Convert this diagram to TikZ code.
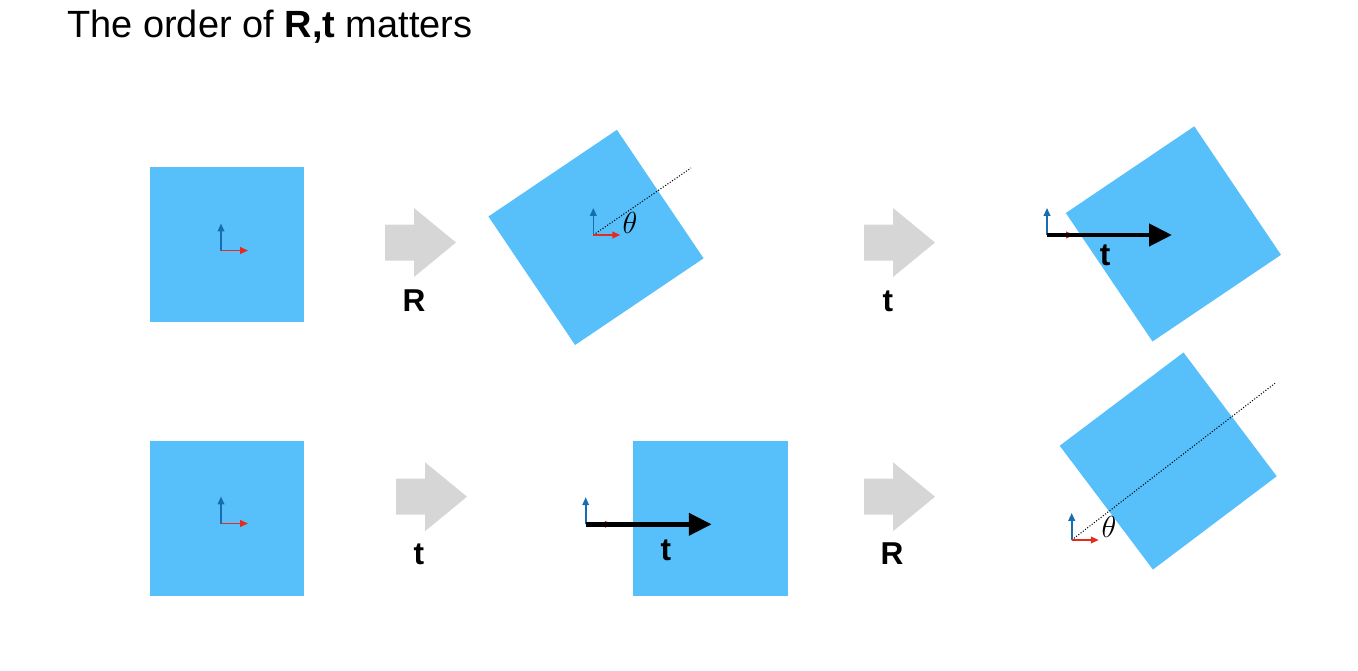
\documentclass[tikz,border=0pt]{standalone}
\usepackage{fontspec}
\setmainfont{Liberation Sans}
\usetikzlibrary{arrows.meta}

\definecolor{squareblue}{RGB}{87,191,250}
\definecolor{opgray}{RGB}{214,214,214}
\definecolor{axisblue}{RGB}{22,110,176}
\definecolor{axisred}{RGB}{228,44,30}

\tikzset{
  block/.style={fill=squareblue, inner sep=0pt, minimum size=3.1cm},
  xaxis/.style={draw=axisred, line width=0.9pt, -{Triangle[length=4.5pt,width=3.8pt]}},
  yaxis/.style={draw=axisblue, line width=0.9pt, -{Triangle[length=4.5pt,width=3.8pt]}},
  tvec/.style={line width=2.8pt, -{Triangle[length=13pt,width=12.3pt]}},
  oplabel/.style={font=\bfseries\fontsize{18}{20}\selectfont},
  anglelabel/.style={font=\fontsize{19}{21}\selectfont},
}

% local frame at a named coordinate
\newcommand{\frameaxes}[1]{%
  \draw[yaxis] (#1) -- ++(0,-27);
  \draw[xaxis] (#1) -- ++(27,0);}
% grey block arrow, left end of shaft at #1
\newcommand{\opblock}[1]{%
  \fill[opgray, shift={(#1)}] (0,-18) -- (29,-18) -- (29,-34.5) -- (71,0)
    -- (29,34.5) -- (29,18) -- (0,18) -- cycle;}

\begin{document}
\begin{tikzpicture}[x=0.02cm, y=-0.02cm]
  \useasboundingbox (0,0) rectangle (1358,670);

  \node[anchor=base west, inner sep=0pt, font=\fontsize{21.6}{26}\selectfont] (title) at (67,37)
    {The order of \textbf{R,t} matters};

  % first row: R then t
  \node[block] (sqA) at (227,244.5) {};
  \coordinate (oA) at (221,250.5);
  \frameaxes{oA}

  \opblock{385,242.5}
  \node[oplabel] (opA) at (414,301) {R};

  \node[block, rotate=34] (sqB) at (596,237.4) {};
  \coordinate (oB) at (593.3,235);
  \coordinate (dB) at (691,168);
  \draw[densely dotted, line width=0.6pt] (oB) -- (dB);
  \frameaxes{oB}
  \node[anglelabel] (thB) at (630,223) {$\theta$};

  \opblock{864,242.5}
  \node[oplabel] (opB) at (888,301) {t};

  \node[block, rotate=34] (sqC) at (1173.4,233.9) {};
  \coordinate (oC) at (1047,235);
  \coordinate (tC) at (1172,235);
  \frameaxes{oC}
  \draw[tvec] (oC) -- (tC);
  \node[oplabel] (tvC) at (1105,255) {t};

  % second row: t then R
  \node[block] (sqD) at (227,518.5) {};
  \coordinate (oD) at (221,523.5);
  \frameaxes{oD}

  \opblock{396,496.7}
  \node[oplabel] (opC) at (419,554) {t};

  \node[block] (sqE) at (710.8,518.4) {};
  \coordinate (oE) at (585.7,524.3);
  \coordinate (tE) at (711.7,524.3);
  \frameaxes{oE}
  \draw[tvec] (oE) -- (tE);
  \node[oplabel] (tvE) at (666,550) {t};

  \opblock{864,496.7}
  \node[oplabel] (opD) at (892,554) {R};

  \node[block, rotate=37] (sqF) at (1168.2,461) {};
  \coordinate (oF) at (1071.7,540);
  \coordinate (dF) at (1275,383.3);
  \draw[densely dotted, line width=0.6pt] (oF) -- (dF);
  \frameaxes{oF}
  \node[anglelabel] (thF) at (1109,527) {$\theta$};
\end{tikzpicture}
\end{document}
